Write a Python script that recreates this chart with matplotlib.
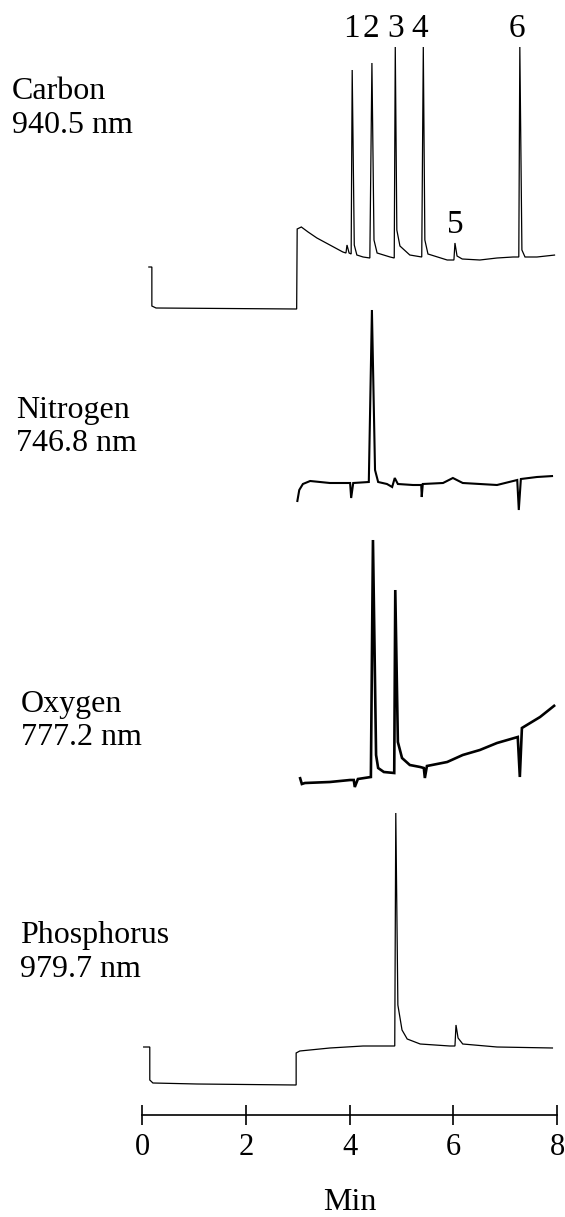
import matplotlib
matplotlib.use("Agg")
import matplotlib.pyplot as plt

# retention time (min) and detector signal (arb. units, 0 = trace baseline)
carbon_t = [0.12, 0.19, 0.19, 0.27, 2.98, 2.99, 3.07, 3.20, 3.37, 3.62, 3.87, 3.93, 3.95, 3.99,
            4.03, 4.05, 4.09, 4.14, 4.26, 4.39, 4.43, 4.47, 4.53, 4.78, 4.86, 4.88, 4.91,
            4.97, 5.16, 5.39, 5.42, 5.45, 5.51, 5.88, 6.01, 6.03, 6.07, 6.17, 6.51, 6.84,
            7.15, 7.26, 7.28, 7.32, 7.38, 7.61, 7.96]
carbon_s = [-10, -10, -49, -51, -52, 28, 30, 25, 19, 12, 5, 4, 12, 4,
            3, 187, 12, 2, 0, -1, 194, 17, 4, 0, -1, 210, 27,
            11, 2, 0, 210, 17, 3, -3, -3, 14, 1, -2, -3, -1,
            0, 0, 210, 7, 0, 0, 2]

nitrogen_t = [2.99, 3.03, 3.10, 3.24, 3.62, 4.01, 4.03, 4.07, 4.37, 4.43, 4.49, 4.55, 4.72,
              4.82, 4.87, 4.93, 5.22, 5.38, 5.39, 5.41, 5.80, 5.99, 6.18, 6.84, 7.23, 7.26,
              7.30, 7.61, 7.92]
nitrogen_s = [-19, -7, -1, 2, 0, 0, -15, 0, 1, 173, 13, 1, -1,
              -4, 5, -1, -2, -2, -14, -1, 0, 5, 0, -2, 3, -27,
              4, 6, 7]

oxygen_t = [3.04, 3.08, 3.14, 3.62, 4.01, 4.08, 4.10, 4.16, 4.41, 4.45, 4.51, 4.55, 4.66,
            4.86, 4.88, 4.93, 5.01, 5.16, 5.36, 5.43, 5.45, 5.49, 5.88, 6.18, 6.51, 6.84,
            7.24, 7.28, 7.32, 7.67, 7.96]
oxygen_s = [5, -2, -1, 0, 2, 2, -5, 3, 5, 242, 27, 14, 10,
            9, 192, 40, 24, 17, 15, 14, 4, 16, 20, 27, 32, 39,
            45, 5, 54, 65, 77]

phosphorus_t = [0.02, 0.15, 0.15, 0.21, 1.06, 2.97, 2.97, 3.04, 3.62, 4.26, 4.84, 4.87, 4.89,
                4.93, 5.01, 5.11, 5.36, 5.93, 6.03, 6.05, 6.09, 6.18, 6.84, 7.92]
phosphorus_s = [0, 0, -33, -36, -37, -38, -6, -4, -1, 1, 1, 1, 234,
                42, 17, 8, 3, 1, 1, 22, 9, 3, 0, -1]

element_names = ["Carbon", "Nitrogen", "Oxygen", "Phosphorus"]
wavelengths = ["940.5 nm", "746.8 nm", "777.2 nm", "979.7 nm"]

peak_labels = ["1", "2", "3", "4", "5", "6"]
peak_times = [4.03, 4.41, 4.89, 5.36, 6.03, 7.22]

x_ticks = [0, 2, 4, 6, 8]

W, H = 565, 1217
fig = plt.figure(figsize=(W / 100, H / 100), dpi=100)
ax = fig.add_axes([0, 0, 1, 1])
ax.set_xlim(-142 / 51.9, (W - 142) / 51.9)
ax.set_ylim(0, H)

serif = "Liberation Serif"

traces = [(carbon_t, carbon_s, 960, 0.9),
          (nitrogen_t, nitrogen_s, 734, 1.5),
          (oxygen_t, oxygen_s, 435, 1.9),
          (phosphorus_t, phosphorus_s, 170, 0.9)]
for t, s, off, lw in traces:
    ax.plot(t, [v + off for v in s], color="black", lw=lw,
            solid_joinstyle="miter", solid_capstyle="butt")

# trace labels (two lines each)
label_base = [(12, 99, 133), (16, 418, 451), (21, 712, 745), (20, 943, 977)]
for name, wl, (px, y1, y2) in zip(element_names, wavelengths, label_base):
    fig.text(px / W, 1 - y1 / H, name, fontsize=23, family=serif, va="baseline")
    fig.text(px / W, 1 - y2 / H, wl, fontsize=23, family=serif, va="baseline")

# peak numbers
for lab, t in zip(peak_labels, peak_times):
    y = 984 if lab == "5" else 1180
    ax.text(t, y, lab, fontsize=24, family=serif, ha="center", va="baseline")

# time axis
for side in ["top", "left", "right"]:
    ax.spines[side].set_visible(False)
ax.spines["bottom"].set_position(("data", H - 1115))
ax.spines["bottom"].set_bounds(0, 8)
ax.spines["bottom"].set_linewidth(1.2)
ax.set_yticks([])
ax.set_xticks(x_ticks)
ax.set_xticklabels([str(v) for v in x_ticks], fontsize=22, family=serif)
ax.tick_params(axis="x", direction="inout", length=14, width=1.2, pad=6)
ax.text(4, H - 1210, "Min", fontsize=23, family=serif, ha="center", va="baseline")

fig.savefig("out.png", dpi=100)
